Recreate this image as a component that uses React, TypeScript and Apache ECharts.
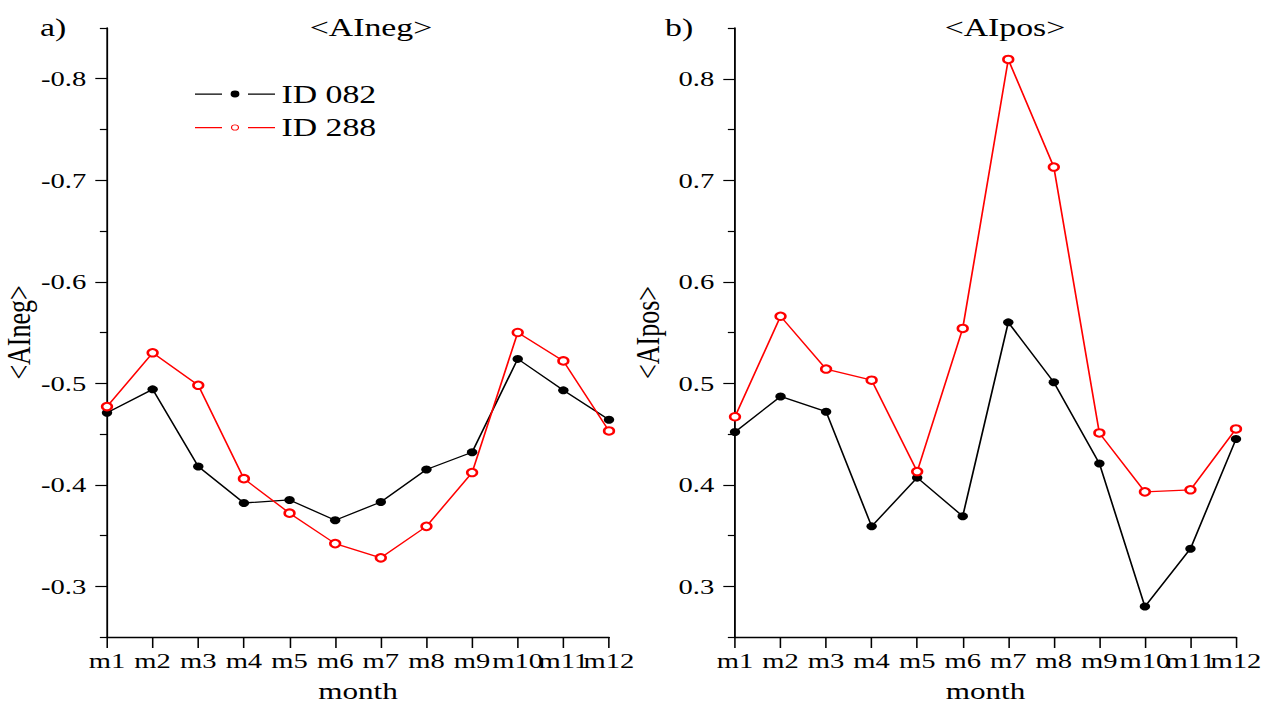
import React, { useEffect, useRef } from "react";
import * as echarts from "echarts";

const months = ["m1", "m2", "m3", "m4", "m5", "m6", "m7", "m8", "m9", "m10", "m11", "m12"];
const ainegId082 = [-0.471, -0.494, -0.418, -0.382, -0.385, -0.365, -0.383, -0.415, -0.432, -0.524, -0.493, -0.464];
const ainegId288 = [-0.477, -0.530, -0.498, -0.406, -0.372, -0.342, -0.328, -0.359, -0.412, -0.550, -0.522, -0.453];
const aiposId082 = [0.452, 0.487, 0.472, 0.359, 0.407, 0.369, 0.560, 0.501, 0.421, 0.280, 0.337, 0.445];
const aiposId288 = [0.467, 0.566, 0.514, 0.503, 0.413, 0.554, 0.819, 0.713, 0.451, 0.393, 0.395, 0.455];
const negMajorTicks = [-0.8, -0.7, -0.6, -0.5, -0.4, -0.3];
const negMinorTicks = [-0.85, -0.75, -0.65, -0.55, -0.45, -0.35, -0.25];
const posMajorTicks = [0.3, 0.4, 0.5, 0.6, 0.7, 0.8];
const posMinorTicks = [0.25, 0.35, 0.45, 0.55, 0.65, 0.75, 0.85];

const W = 978;
const H = 704;
const S = 1271 / W;
const FONT = "'Liberation Serif', 'Times New Roman', serif";

// legend icons: line segment, gap, marker, gap, line segment (box 61.6 x 7)
const LEG_LINES = "M0,2.9 h20.8 v1.3 h-20.8 Z M40.8,2.9 h20.8 v1.3 h-20.8 Z";
const ICON_DOT = "path://" + LEG_LINES + " M27.4,3.5 a3.4,3.4 0 1,0 6.8,0 a3.4,3.4 0 1,0 -6.8,0 Z M0,0 h0.01 v7 h-0.01 Z";
const ICON_RING =
  "path://" + LEG_LINES +
  " M27.7,3.5 a3.1,3.1 0 1,0 6.2,0 a3.1,3.1 0 1,0 -6.2,0 Z M28.6,3.5 a2.2,2.2 0 1,1 4.4,0 a2.2,2.2 0 1,1 -4.4,0 Z M0,0 h0.01 v7 h-0.01 Z";

export default function App() {
  const ref = useRef<HTMLDivElement>(null);
  useEffect(() => {
    if (!ref.current) return;
    const chart = echarts.init(ref.current, null, { renderer: "svg" });
    const axisLine = { show: true, lineStyle: { color: "#000", width: 1.4 } };
    const xAxis = (gridIndex: number) => ({
      type: "category",
      gridIndex,
      data: months,
      boundaryGap: false,
      name: "month",
      nameLocation: "middle",
      nameGap: 42,
      nameTextStyle: { fontFamily: FONT, fontSize: 24, color: "#000" },
      axisLine,
      axisTick: { show: true, length: 11, lineStyle: { color: "#000", width: 1.2 } },
      axisLabel: { interval: 0, fontFamily: FONT, fontSize: 22, color: "#000", margin: 13 },
      splitLine: { show: false },
    });
    const yMajor = (gridIndex: number, min: number, max: number, inverse: boolean, ticks: number[], name: string) => ({
      type: "value",
      gridIndex,
      min,
      max,
      inverse,
      name,
      nameLocation: "middle",
      nameGap: 54,
      nameTextStyle: { fontFamily: FONT, fontSize: 26, color: "#000" },
      axisLine,
      axisTick: { show: true, length: 9, customValues: ticks, lineStyle: { color: "#000", width: 1.2 } },
      axisLabel: {
        customValues: ticks,
        fontFamily: FONT,
        fontSize: 22,
        color: "#000",
        margin: 16,
        formatter: (v: number) => v.toFixed(1),
      },
      splitLine: { show: false },
    });
    const yMinor = (gridIndex: number, min: number, max: number, inverse: boolean, ticks: number[]) => ({
      type: "value",
      gridIndex,
      min,
      max,
      inverse,
      position: "left",
      axisLine: { show: false },
      axisTick: { show: true, length: 5.5, customValues: ticks, lineStyle: { color: "#000", width: 1.2 } },
      axisLabel: { show: false },
      splitLine: { show: false },
    });
    const blackSeries = (idx: number, data: number[]) => ({
      name: "ID 082",
      type: "line",
      xAxisIndex: idx,
      yAxisIndex: idx * 2,
      data,
      symbol: "circle",
      symbolSize: 8,
      itemStyle: { color: "#000" },
      lineStyle: { color: "#000", width: 1.3 },
    });
    const redSeries = (idx: number, data: number[]) => ({
      name: "ID 288",
      type: "line",
      xAxisIndex: idx,
      yAxisIndex: idx * 2,
      data,
      symbol: "emptyCircle",
      symbolSize: 7.5,
      itemStyle: { color: "#ff0000", borderColor: "#ff0000", borderWidth: 1.1 },
      lineStyle: { color: "#ff0000", width: 1.3 },
    });
    const text = (t: string, x: number, align: string) => ({
      type: "text",
      x,
      y: 27,
      style: { text: t, fontFamily: FONT, fontSize: 26, fill: "#000", align, verticalAlign: "middle" },
    });
    chart.setOption({
      animation: false,
      backgroundColor: "#fff",
      grid: [
        { left: 107 / S, top: 28, width: (609 - 107) / S, height: 609, containLabel: false, outerBoundsMode: "none" },
        { left: 735 / S, top: 28, width: (1236 - 735) / S, height: 609, containLabel: false, outerBoundsMode: "none" },
      ],
      xAxis: [xAxis(0), xAxis(1)],
      yAxis: [
        yMajor(0, -0.85, -0.25, true, negMajorTicks, "<AIneg>"),
        yMinor(0, -0.85, -0.25, true, negMinorTicks),
        yMajor(1, 0.25, 0.85, false, posMajorTicks, "<AIpos>"),
        yMinor(1, 0.25, 0.85, false, posMinorTicks),
      ],
      legend: {
        data: [
          { name: "ID 082", icon: ICON_DOT, itemStyle: { color: "#000", borderWidth: 0 } },
          { name: "ID 288", icon: ICON_RING, itemStyle: { color: "#ff0000", borderWidth: 0 } },
        ],
        orient: "vertical",
        left: 195 / S,
        top: 81,
        padding: 0,
        itemWidth: 80 / S,
        itemHeight: 7,
        itemGap: 7.5,
        textStyle: { fontFamily: FONT, fontSize: 26, color: "#000", lineHeight: 26 },
      },
      graphic: [
        text("a)", 40 / S, "left"),
        text("<AIneg>", 371 / S, "center"),
        text("b)", 665 / S, "left"),
        text("<AIpos>", 1005 / S, "center"),
      ],
      series: [
        blackSeries(0, ainegId082),
        redSeries(0, ainegId288),
        blackSeries(1, aiposId082),
        redSeries(1, aiposId288),
      ],
    });
    return () => chart.dispose();
  }, []);
  return (
    <div
      ref={ref}
      style={{
        position: "absolute",
        left: 0,
        top: 0,
        width: W,
        height: H,
        transform: `scaleX(${S})`,
        transformOrigin: "0 0",
        background: "#fff",
      }}
    />
  );
}
